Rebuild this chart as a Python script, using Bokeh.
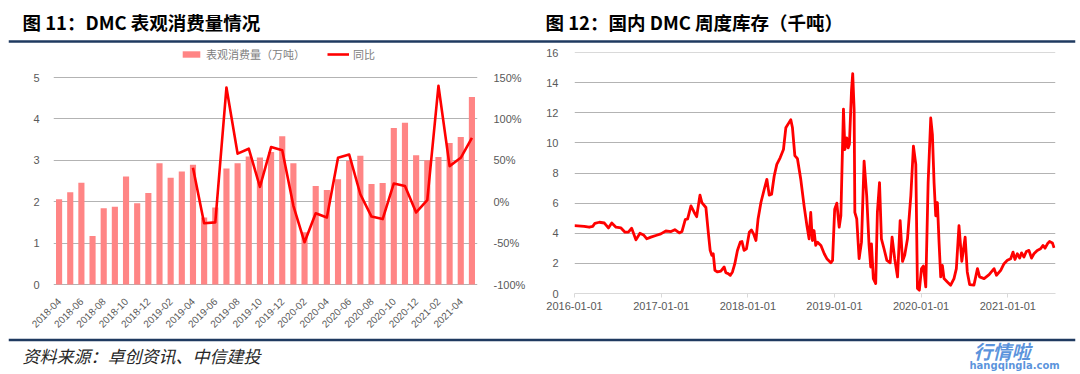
import math
import pandas as pd
from bokeh.plotting import figure
from bokeh.layouts import column, row
from bokeh.models import (Range1d, LinearAxis, FixedTicker, NumeralTickFormatter, Legend,
                          LegendItem, Label, Span, DatetimeTickFormatter)
from bokeh.embed import file_html
from bokeh.resources import INLINE

# ---------------- data: figure 11 ----------------
months = ["2018-04", "2018-05", "2018-06", "2018-07", "2018-08", "2018-09", "2018-10", "2018-11",
          "2018-12", "2019-01", "2019-02", "2019-03", "2019-04", "2019-05", "2019-06", "2019-07",
          "2019-08", "2019-09", "2019-10", "2019-11", "2019-12", "2020-01", "2020-02", "2020-03",
          "2020-04", "2020-05", "2020-06", "2020-07", "2020-08", "2020-09", "2020-10", "2020-11",
          "2020-12", "2021-01", "2021-02", "2021-03", "2021-04", "2021-05"]
consumption = [2.06, 2.23, 2.46, 1.17, 1.84, 1.88, 2.61, 1.96, 2.21, 2.93, 2.58, 2.73, 2.89,
               1.62, 1.86, 2.80, 2.93, 3.09, 3.07, 3.20, 3.58, 2.93, 1.26, 2.38, 2.28, 2.54,
               2.99, 3.11, 2.43, 2.45, 3.78, 3.91, 3.12, 3.00, 3.08, 3.42, 3.56, 4.53]
yoy_months = months[12:]
yoy = [0.41, -0.26, -0.25, 1.38, 0.58, 0.64, 0.18, 0.66, 0.62, -0.05, -0.49, -0.14, -0.19,
       0.53, 0.57, 0.09, -0.18, -0.21, 0.22, 0.19, -0.13, 0.02, 1.40, 0.43, 0.53, 0.77]
cons_ticks = [0, 1, 2, 3, 4, 5]
pct_ticks = [-1.0, -0.5, 0.0, 0.5, 1.0, 1.5]

# ---------------- data: figure 12 ----------------
stock_dates = [
    "2016-01-01", "2016-02-11", "2016-03-03", "2016-03-18", "2016-03-27", "2016-04-15", "2016-05-06",
    "2016-05-23", "2016-06-06", "2016-06-24", "2016-07-15", "2016-08-01", "2016-08-15", "2016-08-29",
    "2016-09-16", "2016-10-03", "2016-10-18", "2016-11-01", "2016-11-18", "2016-12-09", "2016-12-30",
    "2017-01-20", "2017-02-11", "2017-02-27", "2017-03-18", "2017-03-29", "2017-04-12", "2017-04-22",
    "2017-05-06", "2017-05-20", "2017-05-30", "2017-06-13", "2017-06-21", "2017-07-08", "2017-07-18",
    "2017-07-26", "2017-08-02", "2017-08-08", "2017-08-15", "2017-08-26", "2017-09-09", "2017-09-23",
    "2017-09-30", "2017-10-10", "2017-10-19", "2017-10-28", "2017-11-07", "2017-11-18", "2017-11-30",
    "2017-12-07", "2017-12-16", "2017-12-26", "2018-01-07", "2018-01-16", "2018-01-25", "2018-02-04",
    "2018-02-13", "2018-02-25", "2018-03-11", "2018-03-22", "2018-04-01", "2018-04-11", "2018-04-22",
    "2018-05-03", "2018-05-17", "2018-05-31", "2018-06-10", "2018-06-24", "2018-07-01", "2018-07-08",
    "2018-07-18", "2018-07-29", "2018-08-12", "2018-08-26", "2018-09-07", "2018-09-16", "2018-09-23",
    "2018-09-30", "2018-10-07", "2018-10-14", "2018-10-21", "2018-11-05", "2018-11-19", "2018-11-30",
    "2018-12-17", "2018-12-24", "2019-01-02", "2019-01-11", "2019-01-21", "2019-01-28", "2019-02-08",
    "2019-02-14", "2019-02-22", "2019-02-28", "2019-03-05", "2019-03-14", "2019-03-19", "2019-03-25",
    "2019-03-28", "2019-04-05", "2019-04-15", "2019-04-25", "2019-05-06", "2019-05-17", "2019-05-27",
    "2019-06-03", "2019-06-06", "2019-06-14", "2019-06-24", "2019-07-01", "2019-07-10", "2019-07-18",
    "2019-07-29", "2019-08-10", "2019-08-24", "2019-09-01", "2019-09-12", "2019-09-24", "2019-10-05",
    "2019-10-15", "2019-10-24", "2019-11-05", "2019-11-19", "2019-11-30", "2019-12-10", "2019-12-17",
    "2019-12-25", "2020-01-03", "2020-01-11", "2020-01-21", "2020-01-31", "2020-02-11", "2020-02-18",
    "2020-02-25", "2020-03-03", "2020-03-10", "2020-03-17", "2020-03-24", "2020-03-31", "2020-04-07",
    "2020-04-21", "2020-05-05", "2020-05-19", "2020-05-29", "2020-06-09", "2020-06-21", "2020-07-05",
    "2020-07-14", "2020-07-24", "2020-08-11", "2020-08-26", "2020-09-04", "2020-09-23", "2020-10-14",
    "2020-11-04", "2020-11-14", "2020-12-02", "2020-12-16", "2020-12-30", "2021-01-13", "2021-01-23",
    "2021-01-31", "2021-02-10", "2021-02-20", "2021-02-28", "2021-03-10", "2021-03-20", "2021-03-31",
    "2021-04-11", "2021-04-21", "2021-05-05", "2021-05-19", "2021-05-29", "2021-06-07", "2021-06-17",
    "2021-06-26", "2021-07-08", "2021-07-15"]
stock_values = [
    4.50, 4.46, 4.40, 4.46, 4.66, 4.73, 4.68,
    4.35, 4.68, 4.40, 4.35, 4.07, 4.07, 4.33,
    3.56, 4.00, 3.89, 3.63, 3.74, 3.85, 3.96,
    4.15, 4.11, 4.24, 4.02, 4.11, 4.90, 4.95,
    5.82, 5.38, 5.10, 6.53, 6.04, 5.71, 4.07,
    2.86, 2.53, 2.64, 1.54, 1.43, 1.49, 1.76,
    1.38, 1.32, 1.21, 1.43, 1.98, 2.86, 3.41,
    3.45, 2.86, 2.97, 4.07, 4.22, 3.96, 3.52,
    4.95, 6.04, 6.92, 7.58, 6.53, 6.59, 7.80,
    8.57, 9.01, 9.56, 11.00, 11.36, 11.54, 11.00,
    9.16, 8.95, 7.58, 5.82, 4.50, 3.63, 5.38,
    3.52, 4.18, 3.19, 3.41, 3.19, 2.64, 2.31,
    2.04, 2.20, 5.60, 6.00, 4.40, 5.16, 12.24,
    9.56, 10.33, 9.67, 9.90, 13.50, 14.60, 12.20,
    5.38, 4.95, 2.31, 3.41, 8.79, 6.48, 3.19,
    1.76, 3.30, 0.99, 0.66, 5.38, 7.36, 3.63,
    2.97, 2.20, 2.04, 3.74, 2.31, 1.10, 4.84,
    2.13, 2.53, 3.63, 6.48, 9.78, 8.57, 0.33,
    0.22, 1.65, 1.82, 0.44, 7.36, 11.65, 10.55,
    7.36, 5.16, 6.04, 3.41, 1.10, 1.87, 0.99,
    0.77, 0.55, 0.99, 1.65, 4.50, 2.13, 3.74,
    1.43, 0.59, 0.55, 1.65, 1.10, 0.99, 1.25,
    1.65, 1.21, 1.54, 1.98, 2.20, 2.31, 2.75,
    2.26, 2.64, 2.35, 2.70, 2.42, 2.79, 2.86,
    2.35, 2.64, 2.86, 2.97, 3.19, 3.01, 3.30,
    3.45, 3.36, 3.03]
stock_ticks = [0, 2, 4, 6, 8, 10, 12, 14, 16]
year_ticks = ["2016-01-01", "2017-01-01", "2018-01-01", "2019-01-01", "2020-01-01", "2021-01-01"]
x_start, x_end = "2016-01-01", "2021-07-21"

# ---------------- texts ----------------
title_left = "图 11：DMC 表观消费量情况"
title_right = "图 12：国内 DMC 周度库存（千吨）"
legend_bar = "表观消费量（万吨）"
legend_line = "同比"
source_text = "资料来源：卓创资讯、中信建投"
mark_cn = "行情啦"
mark_en = "hangqingla.com"

CJK = "Noto Sans CJK SC"
LAT = "Liberation Sans"
TICK_COLOR = "#595959"
GRID = "#b3b3b3"
RULE = "#1F3A60"
PAGE_W = 1080

# shared frame geometry of the two charts (row height / borders, in px)
ROW_H = 292
BORDER_TOP = 0
BORDER_BOTTOM = 42
FRAME_H = ROW_H - BORDER_TOP - BORDER_BOTTOM
# vertical padding (px) of each chart's frame beyond its outer ticks
left_pad_top, left_pad_bottom = 34, 9
right_pad_top, right_pad_bottom = 9, 0


def deco_fig(h):
    f = figure(width=PAGE_W, height=h, x_range=Range1d(8, PAGE_W - 5), y_range=Range1d(0, h),
               x_axis_location=None, y_axis_location=None, toolbar_location=None,
               output_backend="svg", title=None, min_border=0,
               min_border_left=8, min_border_right=5)
    f.grid.visible = False
    f.outline_line_color = None
    return f


def padded(lo, hi, pad_lo, pad_hi):
    inner = FRAME_H - pad_lo - pad_hi
    per_px = (hi - lo) / inner
    return lo - pad_lo * per_px, hi + pad_hi * per_px


# ---------------- header (page y 0..43) ----------------
top = deco_fig(43)
top.add_layout(Label(x=22, y=21.5, text=title_left, text_font=CJK, text_font_style="bold",
                     text_font_size="18.5px", text_baseline="middle", text_color="#000000"))
top.add_layout(Label(x=545, y=21.5, text=title_right, text_font=CJK, text_font_style="bold",
                     text_font_size="18.5px", text_baseline="middle", text_color="#000000"))
top.add_layout(Span(location=2, dimension="width", line_color=RULE, line_width=2.5))

# ---------------- left chart ----------------
x_idx = list(range(len(months)))
c_lo, c_hi = padded(cons_ticks[0], cons_ticks[-1], left_pad_bottom, left_pad_top)
p_lo, p_hi = padded(pct_ticks[0], pct_ticks[-1], left_pad_bottom, left_pad_top)
left = figure(width=540, height=ROW_H, x_range=Range1d(-0.5, len(months) - 0.5),
              y_range=Range1d(c_lo, c_hi), toolbar_location=None,
              output_backend="svg", title=None,
              min_border_left=53, min_border_right=63, min_border_top=BORDER_TOP,
              min_border_bottom=BORDER_BOTTOM)
left.extra_y_ranges = {"pct": Range1d(p_lo, p_hi)}
left.outline_line_color = None
left.xgrid.visible = False
left.ygrid.ticker = FixedTicker(ticks=cons_ticks)
left.ygrid.grid_line_color = GRID

bars = left.vbar(x=x_idx, top=consumption, width=0.55, fill_color="#FF8585", line_color=None)
yoy_x = [months.index(m) for m in yoy_months]
yline = left.line(x=yoy_x, y=yoy, y_range_name="pct", line_color="#FF0000", line_width=2.6,
                  line_join="round")

ya = left.yaxis[0]
ya.ticker = FixedTicker(ticks=cons_ticks)
ya.axis_line_color = None
ya.major_tick_line_color = None
ya.minor_tick_line_color = None
ya.major_label_standoff = 8
ya.major_label_text_font = LAT
ya.major_label_text_font_size = "11px"
ya.major_label_text_color = TICK_COLOR

ra = LinearAxis(y_range_name="pct", ticker=FixedTicker(ticks=pct_ticks),
                formatter=NumeralTickFormatter(format="0%"))
ra.axis_line_color = None
ra.major_tick_line_color = None
ra.minor_tick_line_color = None
ra.major_label_standoff = 10
ra.major_label_text_font = LAT
ra.major_label_text_font_size = "11px"
ra.major_label_text_color = TICK_COLOR
left.add_layout(ra, "right")

xa = left.xaxis[0]
even = x_idx[::2]
xa.ticker = FixedTicker(ticks=even)
xa.major_label_overrides = {i: months[i] for i in even}
xa.major_label_orientation = math.pi / 4
xa.axis_line_color = None
xa.major_tick_line_color = None
xa.minor_tick_line_color = None
xa.major_label_standoff = 0
xa.major_label_text_font = LAT
xa.major_label_text_font_size = "10px"
xa.major_label_text_color = TICK_COLOR

legend = Legend(items=[LegendItem(label=legend_bar, renderers=[bars]),
                       LegendItem(label=legend_line, renderers=[yline])],
                orientation="horizontal", location=(127, FRAME_H - 19), padding=0, margin=0,
                spacing=22, label_standoff=4, glyph_width=22, glyph_height=8, label_height=12,
                label_text_font=CJK, label_text_font_size="11px", label_text_color="#808080",
                border_line_color=None, background_fill_alpha=0)
left.add_layout(legend, "center")

# ---------------- right chart ----------------
sd = pd.to_datetime(stock_dates)
s_lo, s_hi = padded(stock_ticks[0], stock_ticks[-1], right_pad_bottom, right_pad_top)
right = figure(width=540, height=ROW_H, x_axis_type="datetime",
               x_range=Range1d(pd.Timestamp(x_start), pd.Timestamp(x_end)),
               y_range=Range1d(s_lo, s_hi), toolbar_location=None,
               output_backend="svg", title=None,
               min_border_left=34, min_border_right=25, min_border_top=BORDER_TOP,
               min_border_bottom=BORDER_BOTTOM)
right.outline_line_color = None
right.xgrid.visible = False
right.ygrid.ticker = FixedTicker(ticks=stock_ticks[1:-1])
right.ygrid.grid_line_color = GRID
right.add_layout(Span(location=stock_ticks[-1], dimension="width", line_color="#d9d9d9",
                      line_width=1))

right.line(x=sd, y=stock_values, line_color="#FF0000", line_width=2.8, line_join="round")

ry = right.yaxis[0]
ry.ticker = FixedTicker(ticks=stock_ticks)
ry.axis_line_color = None
ry.major_tick_line_color = None
ry.minor_tick_line_color = None
ry.major_label_standoff = 10
ry.major_label_text_font = LAT
ry.major_label_text_font_size = "11px"
ry.major_label_text_color = TICK_COLOR

rx = right.xaxis[0]
yt_ms = [pd.Timestamp(d).value // 10**6 for d in year_ticks]
rx.ticker = FixedTicker(ticks=yt_ms)
fmt = "%Y-%m-%d"
rx.formatter = DatetimeTickFormatter(years=fmt, months=fmt, days=fmt, hours=fmt, hourmin=fmt,
                                     minutes=fmt, minsec=fmt, seconds=fmt, milliseconds=fmt,
                                     microseconds=fmt)
rx.axis_line_color = "#d9d9d9"
rx.major_tick_line_color = "#d9d9d9"
rx.major_tick_out = 4
rx.major_tick_in = 0
rx.minor_tick_line_color = None
rx.major_label_standoff = 4
rx.major_label_text_font = LAT
rx.major_label_text_font_size = "11px"
rx.major_label_text_color = TICK_COLOR

# ---------------- footer (page y 335..374) ----------------
bottom = deco_fig(39)
bottom.add_layout(Span(location=34.5, dimension="width", line_color=RULE, line_width=2.5))
bottom.add_layout(Label(x=22, y=19, text=source_text, text_font=CJK, text_font_style="italic",
                        text_font_size="17px", text_baseline="middle", text_color="#262626"))
bottom.add_layout(Label(x=973, y=24, text=mark_cn, text_font=CJK, text_font_style="bold italic",
                        text_font_size="19px", text_baseline="middle", text_color="#3D7FD6",
                        text_alpha=0.85))
bottom.add_layout(Label(x=969, y=9, text=mark_en, text_font="DejaVu Sans",
                        text_font_style="bold", text_font_size="10px", text_baseline="middle",
                        text_color="#3D7FD6", text_alpha=0.85))

layout = column(top, row(left, right), bottom)
open("out.html", "w").write(file_html(layout, INLINE))
